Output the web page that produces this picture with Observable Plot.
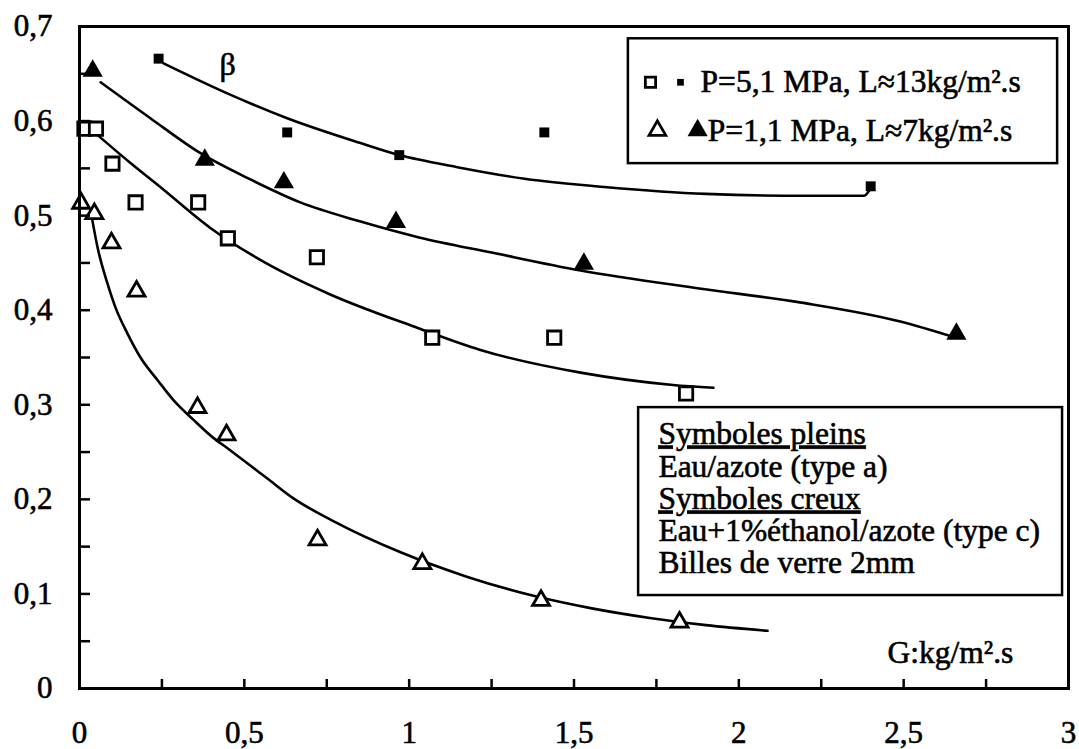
<!DOCTYPE html>
<html>
<head>
<meta charset="utf-8">
<script src="https://cdn.jsdelivr.net/npm/d3@7"></script>
<script src="https://cdn.jsdelivr.net/npm/@observablehq/plot@0.6"></script>
<style>
  html, body { margin: 0; padding: 0; background: #fff; }
</style>
</head>
<body>
<div id="chart"></div>
<script>
// ---------- Data ----------
// Filled squares: P=5,1 MPa, eau/azote (type a)
const filledSqX = [0.24, 0.63, 0.97, 1.41, 2.40];
const filledSqY = [0.666, 0.588, 0.564, 0.588, 0.531];
// Open squares: P=5,1 MPa, eau+1% éthanol/azote (type c)
const openSqX = [0.015, 0.05, 0.10, 0.17, 0.36, 0.45, 0.72, 1.07, 1.44, 1.84];
const openSqY = [0.592, 0.592, 0.555, 0.514, 0.514, 0.476, 0.456, 0.371, 0.371, 0.312];
// Filled triangles: P=1,1 MPa, type a
const filledTriX = [0.04, 0.38, 0.62, 0.96, 1.53, 2.66];
const filledTriY = [0.653, 0.559, 0.535, 0.493, 0.449, 0.375];
// Open triangles: P=1,1 MPa, type c
const openTriX = [0.005, 0.045, 0.097, 0.173, 0.358, 0.446, 0.722, 1.04, 1.40, 1.82];
const openTriY = [0.513, 0.502, 0.471, 0.420, 0.297, 0.268, 0.157, 0.132, 0.093, 0.070];

// Hand-drawn fitted curves (traced)
const curveFilledSqX = [0.255, 0.45, 0.63, 0.85, 0.97, 1.15, 1.35, 1.6, 1.9, 2.2, 2.38, 2.40];
const curveFilledSqY = [0.661, 0.629, 0.603, 0.577, 0.564, 0.551, 0.539, 0.530, 0.523, 0.521, 0.521, 0.529];
const curveFilledTriX = [0.064, 0.215, 0.367, 0.52, 0.67, 0.85, 1.03, 1.25, 1.52, 1.88, 2.19, 2.49, 2.657];
const curveFilledTriY = [0.641, 0.603, 0.566, 0.538, 0.514, 0.494, 0.477, 0.461, 0.442, 0.423, 0.408, 0.388, 0.371];
const curveOpenSqX = [0.049, 0.15, 0.246, 0.397, 0.570, 0.752, 1.028, 1.216, 1.52, 1.80, 1.923];
const curveOpenSqY = [0.587, 0.557, 0.530, 0.487, 0.449, 0.418, 0.381, 0.358, 0.334, 0.321, 0.318];
const curveOpenTriX = [0.039, 0.055, 0.085, 0.109, 0.146, 0.185, 0.237, 0.285, 0.346, 0.406, 0.449, 0.510, 0.570, 0.649, 0.770, 0.974, 1.177, 1.377, 1.55, 1.73, 1.9, 2.087];
const curveOpenTriY = [0.495, 0.466, 0.428, 0.403, 0.375, 0.350, 0.326, 0.305, 0.284, 0.265, 0.254, 0.238, 0.222, 0.201, 0.177, 0.144, 0.118, 0.098, 0.085, 0.0746, 0.067, 0.061];

// Axis ticks and labels
const xMajorTicks = [0, 0.5, 1, 1.5, 2, 2.5, 3];
const xTickLabels = ["0", "0,5", "1", "1,5", "2", "2,5", "3"];
const xMinorTicks = [0.25, 0.5, 0.75, 1, 1.25, 1.5, 1.75, 2, 2.25, 2.5, 2.75];
const yMajorTicks = [0, 0.1, 0.2, 0.3, 0.4, 0.5, 0.6, 0.7];
const yTickLabels = ["0", "0,1", "0,2", "0,3", "0,4", "0,5", "0,6", "0,7"];
const yMinorTicks = [0.05, 0.1, 0.15, 0.2, 0.25, 0.3, 0.35, 0.4, 0.45, 0.5, 0.55, 0.6, 0.65];

// Annotation texts
const legendSeriesLabels = ["P=5,1 MPa, L\u224813kg/m\u00B2.s", "P=1,1 MPa, L\u22487kg/m\u00B2.s"];
const noteLines = ["Symboles pleins", "Eau/azote (type a)", "Symboles creux", "Eau+1%\u00E9thanol/azote (type c)", "Billes de verre 2mm"];
const curveLabel = "\u03B2";
const axisLabel = "G:kg/m\u00B2.s";

// ---------- Build tables ----------
const zip = (xs, ys) => xs.map((x, i) => ({x, y: ys[i]}));
const filledSq = zip(filledSqX, filledSqY);
const openSq = zip(openSqX, openSqY);
const filledTri = zip(filledTriX, filledTriY);
const openTri = zip(openTriX, openTriY);
const curves = [
  ...zip(curveFilledSqX, curveFilledSqY).map(d => ({...d, c: "fs"})),
  ...zip(curveFilledTriX, curveFilledTriY).map(d => ({...d, c: "ft"})),
  ...zip(curveOpenSqX, curveOpenSqY).map(d => ({...d, c: "os"})),
  ...zip(curveOpenTriX, curveOpenTriY).map(d => ({...d, c: "ot"}))
];
const xLabelMap = new Map(xMajorTicks.map((v, i) => [v, xTickLabels[i]]));
const yLabelMap = new Map(yMajorTicks.map((v, i) => [v, yTickLabels[i]]));

// annotation placement (in data units)
const legendBox = {x1: 1.665, x2: 2.967, y1: 0.555, y2: 0.687};
const noteBox = {x1: 1.696, x2: 2.982, y1: 0.0983, y2: 0.297};
const legendRows = [
  {xo: 1.732, xf: 1.823, xt: 1.884, y: 0.641, sym: "square", text: legendSeriesLabels[0]},
  {xo: 1.753, xf: 1.875, xt: 1.906, y: 0.590, sym: "triangle", text: legendSeriesLabels[1]}
];
const noteRowY = [0.2696, 0.2347, 0.2009, 0.1671, 0.1332];
const noteRows = noteLines.map((t, i) => ({x: 1.756, y: noteRowY[i], text: t}));

const FONT = "'Liberation Serif', 'Times New Roman', Times, serif";
const FS = 31.5;

const chart = Plot.plot({
  width: 1079,
  height: 749,
  marginLeft: 79,
  marginRight: 11,
  marginTop: 26,
  marginBottom: 61,
  x: {domain: [0, 3]},
  y: {domain: [0, 0.7]},
  style: {fontFamily: FONT, fontSize: "31px", background: "#fff", color: "#000", overflow: "visible"},
  marks: [
    // fitted curves
    Plot.line(curves, {x: "x", y: "y", z: "c", curve: "monotone-x", stroke: "#000", strokeWidth: 2.6}),
    // data points
    Plot.dot(filledSq, {x: "x", y: "y", symbol: "square", r: 5.6, fill: "#000", stroke: "none"}),
    Plot.dot(openSq, {x: "x", y: "y", symbol: "square", r: 7.5, fill: "#fff", stroke: "#000", strokeWidth: 2.8}),
    Plot.dot(filledTri, {x: "x", y: "y", symbol: "triangle", r: 7.5, fill: "#000", stroke: "none"}),
    Plot.dot(openTri, {x: "x", y: "y", symbol: "triangle", r: 6.3, fill: "#fff", stroke: "#000", strokeWidth: 2.8}),
    // legend box (series)
    Plot.rect([legendBox], {x1: "x1", x2: "x2", y1: "y1", y2: "y2", fill: "#fff", stroke: "#000", strokeWidth: 2.5}),
    Plot.dot(legendRows.filter(d => d.sym === "square"), {x: "xo", y: "y", symbol: "square", r: 5.8, fill: "#fff", stroke: "#000", strokeWidth: 2.8}),
    Plot.dot(legendRows.filter(d => d.sym === "square"), {x: "xf", y: "y", symbol: "square", r: 3.8, fill: "#000"}),
    Plot.dot(legendRows.filter(d => d.sym === "triangle"), {x: "xo", y: "y", symbol: "triangle", r: 6.2, fill: "#fff", stroke: "#000", strokeWidth: 2.8}),
    Plot.dot(legendRows.filter(d => d.sym === "triangle"), {x: "xf", y: "y", symbol: "triangle", r: 7.5, fill: "#000"}),
    Plot.text(legendRows, {x: "xt", y: "y", text: "text", textAnchor: "start", lineAnchor: "middle", fontSize: FS, fill: "#000"}),
    // notes box
    Plot.rect([noteBox], {x1: "x1", x2: "x2", y1: "y1", y2: "y2", fill: "#fff", stroke: "#000", strokeWidth: 2.5}),
    Plot.text(noteRows, {x: "x", y: "y", text: "text", textAnchor: "start", lineAnchor: "middle", fontSize: FS, fill: "#000"}),
    // beta and unit labels
    Plot.text([{x: 0.449, y: 0.660, t: curveLabel}], {x: "x", y: "y", text: "t", textAnchor: "middle", lineAnchor: "middle", fontSize: 32, fill: "#000"}),
    Plot.text([{x: 2.451, y: 0.038, t: axisLabel}], {x: "x", y: "y", text: "t", textAnchor: "start", lineAnchor: "middle", fontSize: FS, fill: "#000"}),
    // inward tick marks
    Plot.axisX(xMinorTicks, {anchor: "top", frameAnchor: "bottom", tickSize: 10, strokeWidth: 2.5, tickFormat: () => "", label: null}),
    Plot.axisY(yMinorTicks, {anchor: "right", frameAnchor: "left", tickSize: 10, strokeWidth: 2.5, tickFormat: () => "", label: null}),
    // tick labels
    Plot.axisX(xMajorTicks, {anchor: "bottom", tickSize: 0, tickPadding: 32, tickFormat: d => xLabelMap.get(d), label: null, fontSize: 31}),
    Plot.axisY(yMajorTicks, {anchor: "left", tickSize: 0, tickPadding: 27, tickFormat: d => yLabelMap.get(d), label: null, fontSize: 31}),
    // frame
    Plot.frame({stroke: "#000", strokeWidth: 3})
  ]
});

// heavier glyphs, like the scanned original
d3.select(chart).selectAll("text")
  .attr("stroke", "#000")
  .attr("stroke-width", 0.6)
  .attr("paint-order", "normal");

d3.select(chart).selectAll("text")
  .filter(function () { return this.textContent.startsWith("Symboles"); })
  .style("text-decoration", "underline");

document.getElementById("chart").appendChild(chart);
</script>
</body>
</html>
